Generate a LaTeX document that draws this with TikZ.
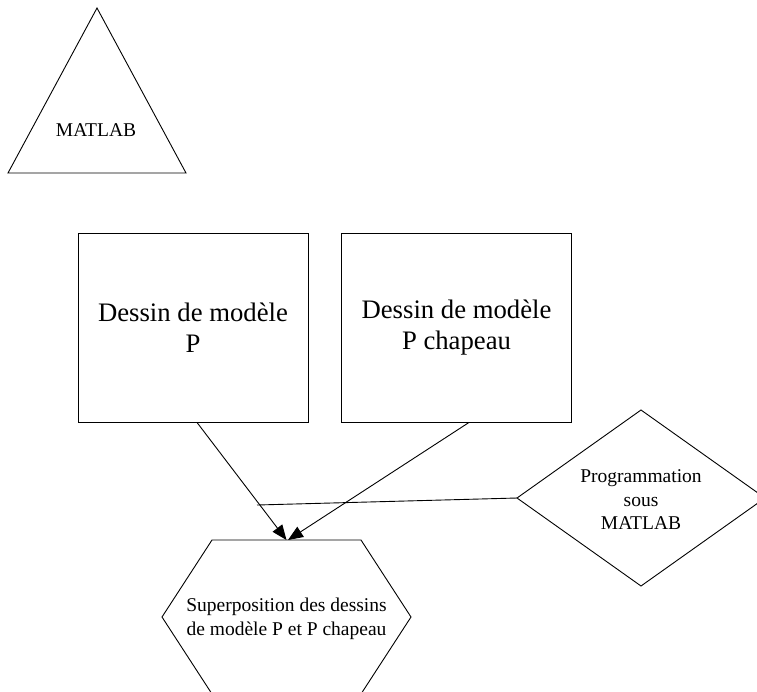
\documentclass[tikz,border=0pt]{standalone}
\usepackage{fontspec}
\setmainfont{Liberation Serif}
\usetikzlibrary{arrows.meta}
\begin{document}
\begin{tikzpicture}[x=1pt,y=-1pt,
  shapeline/.style={draw=black,line width=0.9pt},
  bigbox/.style={shapeline,rectangle,minimum width=230pt,minimum height=189pt,inner sep=0pt,font=\fontsize{26.7}{31}\selectfont,align=center},
  smalltxt/.style={font=\fontsize{19.5}{23.5}\selectfont,align=center,inner sep=0pt},
  conn/.style={draw=black,line width=0.9pt},
  arr/.style={conn,-{Triangle[length=15pt,width=12pt]}}]
\useasboundingbox (0,0) rectangle (757,691);
\draw[shapeline] (97,8) -- (186,173) -- (8,173) -- cycle;
\node[smalltxt] (matlab) at (96,130) {MATLAB};
\node[bigbox] (pbox) at (193,327.5) {Dessin de modèle\\P};
\node[bigbox] (phat) at (456.5,327.5) {Dessin de modèle\\P chapeau};
\coordinate (dleft) at (517,498);
\draw[shapeline] (641,410) -- (765,498) -- (641,586) -- (dleft) -- cycle;
\node[smalltxt] (prog) at (641,500) {Programmation\\sous\\MATLAB};
\coordinate (htop) at (286.5,540);
\coordinate (htopr) at (288,540);
\draw[shapeline] (212,540) -- (361,540) -- (411,617) -- (361,694) -- (212,694) -- (162,617) -- cycle;
\node[smalltxt] (superpos) at (286.5,619) {Superposition des dessins\\de modèle P et P chapeau};
\draw[arr] ([xshift=4pt]pbox.south) -- (htop);
\draw[arr] ([xshift=12.5pt]phat.south) -- (htopr);
\coordinate (lineend) at (257,505);
\draw[conn] (dleft) -- (lineend);
\end{tikzpicture}
\end{document}
